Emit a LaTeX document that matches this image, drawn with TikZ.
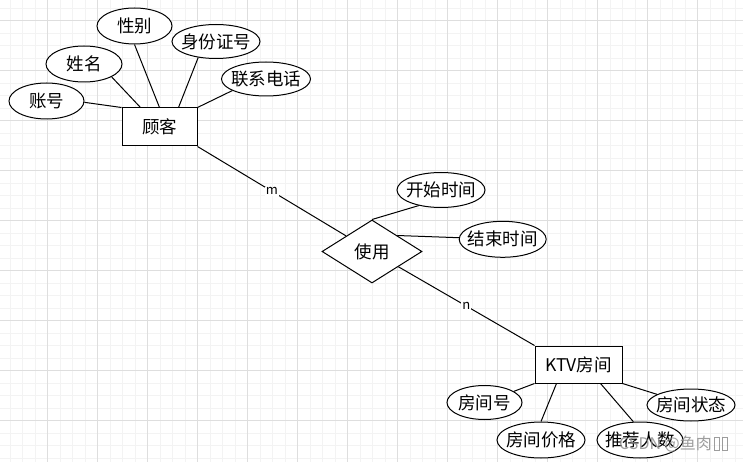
\documentclass[tikz,border=0pt]{standalone}
\usepackage{fontspec}
\setmainfont{Noto Sans CJK SC}
\usetikzlibrary{shapes.geometric,calc}
\definecolor{gridminor}{RGB}{243,243,243}
\definecolor{gridmajor}{RGB}{222,222,222}
\definecolor{wmgray}{RGB}{140,140,140}
\begin{document}
\begin{tikzpicture}[x=1pt,y=-1pt,
  conn/.style={draw=black, line width=1pt},
  lbl/.style={font=\fontsize{17.5}{20}\selectfont},
  entity/.style={draw=black, line width=1pt, rectangle, fill=white, inner sep=0pt, lbl},
  attr/.style={draw=black, line width=1pt, ellipse, fill=white, inner sep=0pt, lbl},
  rel/.style={draw=black, line width=1pt, diamond, fill=white, inner sep=0pt, lbl},
  card/.style={fill=white, inner sep=1pt, font=\fontsize{13}{15}\selectfont},
  wm/.style={text=wmgray, opacity=0.85, inner sep=0pt, font=\fontsize{16}{18}\selectfont},
]
\useasboundingbox (0,0) rectangle (743,462);
\begin{scope}
\clip (0,0) rectangle (743,462);
\fill[white] (0,0) rectangle (743,462);
\foreach \i in {0,...,58} {
  \pgfmathsetmacro\xx{10.2+12.5*\i}
  \draw[gridminor, line width=0.8pt] (\xx,0) -- (\xx,462);
}
\foreach \i in {0,...,36} {
  \pgfmathsetmacro\yy{8.2+12.5*\i}
  \draw[gridminor, line width=0.8pt] (0,\yy) -- (743,\yy);
}
\foreach \i in {0,...,14} {
  \pgfmathsetmacro\xx{47.7+50*\i}
  \draw[gridmajor, line width=0.8pt] (\xx,0) -- (\xx,462);
}
\foreach \i in {0,...,8} {
  \pgfmathsetmacro\yy{20.7+50*\i}
  \draw[gridmajor, line width=0.8pt] (0,\yy) -- (743,\yy);
}
\end{scope}

% entities and relationship
\node[entity, minimum width=75pt, minimum height=38pt] (gk) at (159.5,127) {顾客};
\node[entity, minimum width=87pt, minimum height=37pt] (ktv) at (578.5,364.5) {KTV房间};
\node[rel, minimum width=100pt, minimum height=63pt] (sy) at (372,251.5) {\makebox[0pt]{使用}};

% customer attributes
\node[attr, minimum width=75pt, minimum height=36pt] (zh) at (46.5,101) {\makebox[0pt]{账号}};
\node[attr, minimum width=76pt, minimum height=36pt] (xm) at (84,64) {\makebox[0pt]{姓名}};
\node[attr, minimum width=75pt, minimum height=36pt] (xb) at (134.5,26) {\makebox[0pt]{性别}};
\node[attr, minimum width=88pt, minimum height=34pt] (sfz) at (216,41.5) {\makebox[0pt]{身份证号}};
\node[attr, minimum width=89pt, minimum height=34pt] (lx) at (266,79) {\makebox[0pt]{联系电话}};

% relationship attributes
\node[attr, minimum width=88pt, minimum height=35pt] (ks) at (441,190) {\makebox[0pt]{开始时间}};
\node[attr, minimum width=87pt, minimum height=36pt] (js) at (502.7,239.3) {\makebox[0pt]{结束时间}};

% room attributes
\node[attr, minimum width=75pt, minimum height=34pt] (fjh) at (484.5,402.5) {\makebox[0pt]{房间号}};
\node[attr, minimum width=88pt, minimum height=32pt] (zt) at (691,405) {\makebox[0pt]{房间状态}};
\node[attr, minimum width=88pt, minimum height=36pt] (jg) at (541,440) {\makebox[0pt]{房间价格}};
\node[attr, minimum width=86pt, minimum height=36pt] (tj) at (640,440) {\makebox[0pt]{推荐人数}};

% connectors
\draw[conn] (zh.-2) -- (gk.north west);
\draw[conn] (xm.-25) -- ($(gk.north west)!0.25!(gk.north east)$);
\draw[conn] (xb.south) -- (gk.north);
\draw[conn] (sfz.222) -- ($(gk.north west)!0.75!(gk.north east)$);
\draw[conn] (lx.199) -- (gk.north east);

\draw[conn] (gk.south east) -- node[card] {m} (sy);
\draw[conn] (sy) -- node[card] {n} (ktv.north west);
\draw[conn] (sy.north) -- (ks.215);
\draw[conn] ($(sy.north)!0.5!(sy.east)$) -- (js);

\draw[conn] (fjh) -- (ktv.south west);
\draw[conn] (jg.north) -- ($(ktv.south west)!0.25!(ktv.south east)$);
\draw[conn] (tj.110) -- ($(ktv.south west)!0.75!(ktv.south east)$);
\draw[conn] (zt) -- (ktv.south east);

% watermark
\node[wm, anchor=east] (wmark) at (712,444) {CSDN @鱼肉};
\draw[wmgray, opacity=0.85, line width=0.9pt] (714.5,437.5) rectangle (719.5,450.5);
\draw[wmgray, opacity=0.85, line width=0.9pt] (722.5,437.5) rectangle (727.5,450.5);
\end{tikzpicture}
\end{document}
